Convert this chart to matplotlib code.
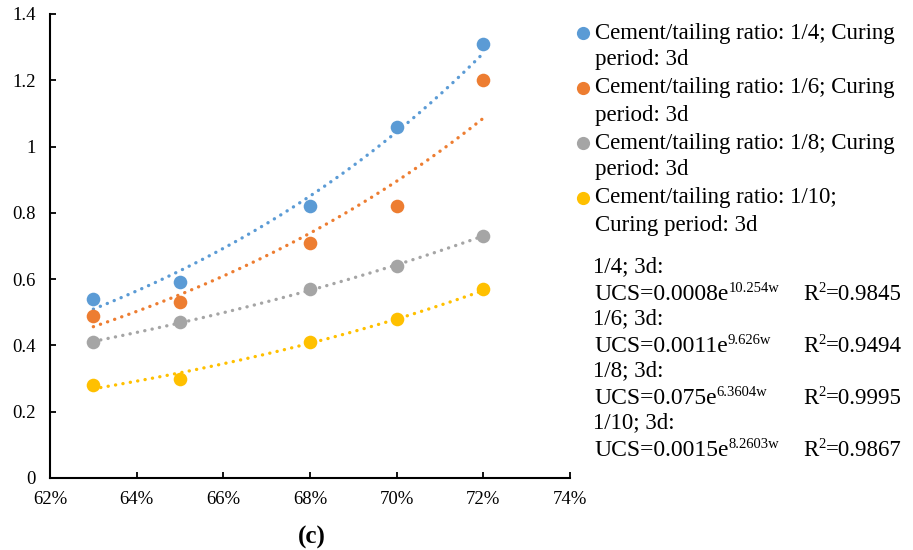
import numpy as np
import matplotlib
matplotlib.use("Agg")
import matplotlib.pyplot as plt
from matplotlib.lines import Line2D

plt.rcParams['font.family'] = ['Liberation Serif', 'DejaVu Serif']

# ---- data ----
water = [0.63, 0.65, 0.68, 0.70, 0.72]
ucs_1_4 = [0.54, 0.59, 0.82, 1.06, 1.31]
ucs_1_6 = [0.49, 0.53, 0.71, 0.82, 1.20]
ucs_1_8 = [0.41, 0.47, 0.57, 0.64, 0.73]
ucs_1_10 = [0.28, 0.30, 0.41, 0.48, 0.57]
series_labels = [
    ["Cement/tailing ratio: 1/4; Curing", "period: 3d"],
    ["Cement/tailing ratio: 1/6; Curing", "period: 3d"],
    ["Cement/tailing ratio: 1/8; Curing", "period: 3d"],
    ["Cement/tailing ratio: 1/10;", "Curing period: 3d"],
]
colors = ['#5B9BD5', '#ED7D31', '#A5A5A5', '#FFC000']
eq_head = ["1/4; 3d:", "1/6; 3d:", "1/8; 3d:", "1/10; 3d:"]
eq_coef = ["0.0008", "0.0011", "0.075", "0.0015"]
eq_exp = ["10.254w", "9.626w", "6.3604w", "8.2603w"]
eq_r2 = ["0.9845", "0.9494", "0.9995", "0.9867"]
x_ticks = [0.62, 0.64, 0.66, 0.68, 0.70, 0.72, 0.74]
y_ticks = [0, 0.2, 0.4, 0.6, 0.8, 1.0, 1.2, 1.4]
y_tick_labels = ["0", "0.2", "0.4", "0.6", "0.8", "1", "1.2", "1.4"]

W, H = 913, 550
fig = plt.figure(figsize=(W / 100, H / 100), dpi=100)
ax = fig.add_axes([50 / W, 1 - 478 / H, (570 - 50) / W, (478 - 14) / H])

all_series = [ucs_1_4, ucs_1_6, ucs_1_8, ucs_1_10]
xw = np.array(water)
for ys, c in zip(all_series, colors):
    ys = np.array(ys)
    b, a = np.polyfit(xw, np.log(ys), 1)
    xf = np.linspace(xw.min(), xw.max(), 200)
    ax.plot(xf, np.exp(a + b * xf), color=c, lw=2.4,
            linestyle=(0, (0.05, 2.2)), dash_capstyle='round', zorder=2)
for ys, c in zip(all_series, colors):
    ax.plot(water, ys, 'o', color=c, ms=9.8, mec='none', zorder=3)

ax.set_xlim(0.62, 0.74)
ax.set_ylim(0, 1.4)
ax.set_xticks(x_ticks)
ax.set_xticklabels([f"{round(v*100)}%" for v in x_ticks])
ax.set_yticks(y_ticks)
ax.set_yticklabels(y_tick_labels)
for s in ['top', 'right']:
    ax.spines[s].set_visible(False)
for s in ['left', 'bottom']:
    ax.spines[s].set_linewidth(1.5)
ax.tick_params(direction='in', length=4, width=1.3, labelsize=13.5, pad=9)
ax.tick_params(axis='y', pad=10)

# legend (manual)
rows = [33, 88, 143, 198]
for r, lab, c in zip(rows, series_labels, colors):
    fig.add_artist(Line2D([583 / W], [1 - r / H], marker='o', color=c, ms=9.5,
                          mec='none', transform=fig.transFigure, linestyle='none'))
    fig.text(595 / W, 1 - r / H, lab[0], fontsize=16.5, va='center', ha='left')
    fig.text(595 / W, 1 - (r + 27) / H, lab[1], fontsize=16.5, va='center', ha='left')

# equations
renderer = fig.canvas.get_renderer()


def chain(x_px, base_px, parts):
    """parts: list of (text, fontsize, raise_px); draws left to right."""
    x = x_px
    for txt, fs, rise in parts:
        t = fig.text(x / W, 1 - (base_px - rise) / H, txt, fontsize=fs,
                     va='baseline', ha='left')
        bb = t.get_window_extent(renderer)
        x = bb.x1


y0 = 267
step = 25.9
for i in range(4):
    yh = y0 + step * 2 * i
    ye = yh + step
    fig.text(593 / W, 1 - yh / H, eq_head[i], fontsize=16.5, va='center', ha='left')
    chain(594, ye + 7.5, [("UCS=" + eq_coef[i] + "e", 17, 0), (eq_exp[i], 10.5, 8)])
    chain(803, ye + 7.5, [("R", 16.5, 0), ("2", 10.5, 8), ("=" + eq_r2[i], 16.5, 0)])

fig.text(312 / W, 1 - 537 / H, "(c)", fontsize=18, fontweight='bold',
         ha='center', va='center')

fig.savefig("out.png", dpi=100)
